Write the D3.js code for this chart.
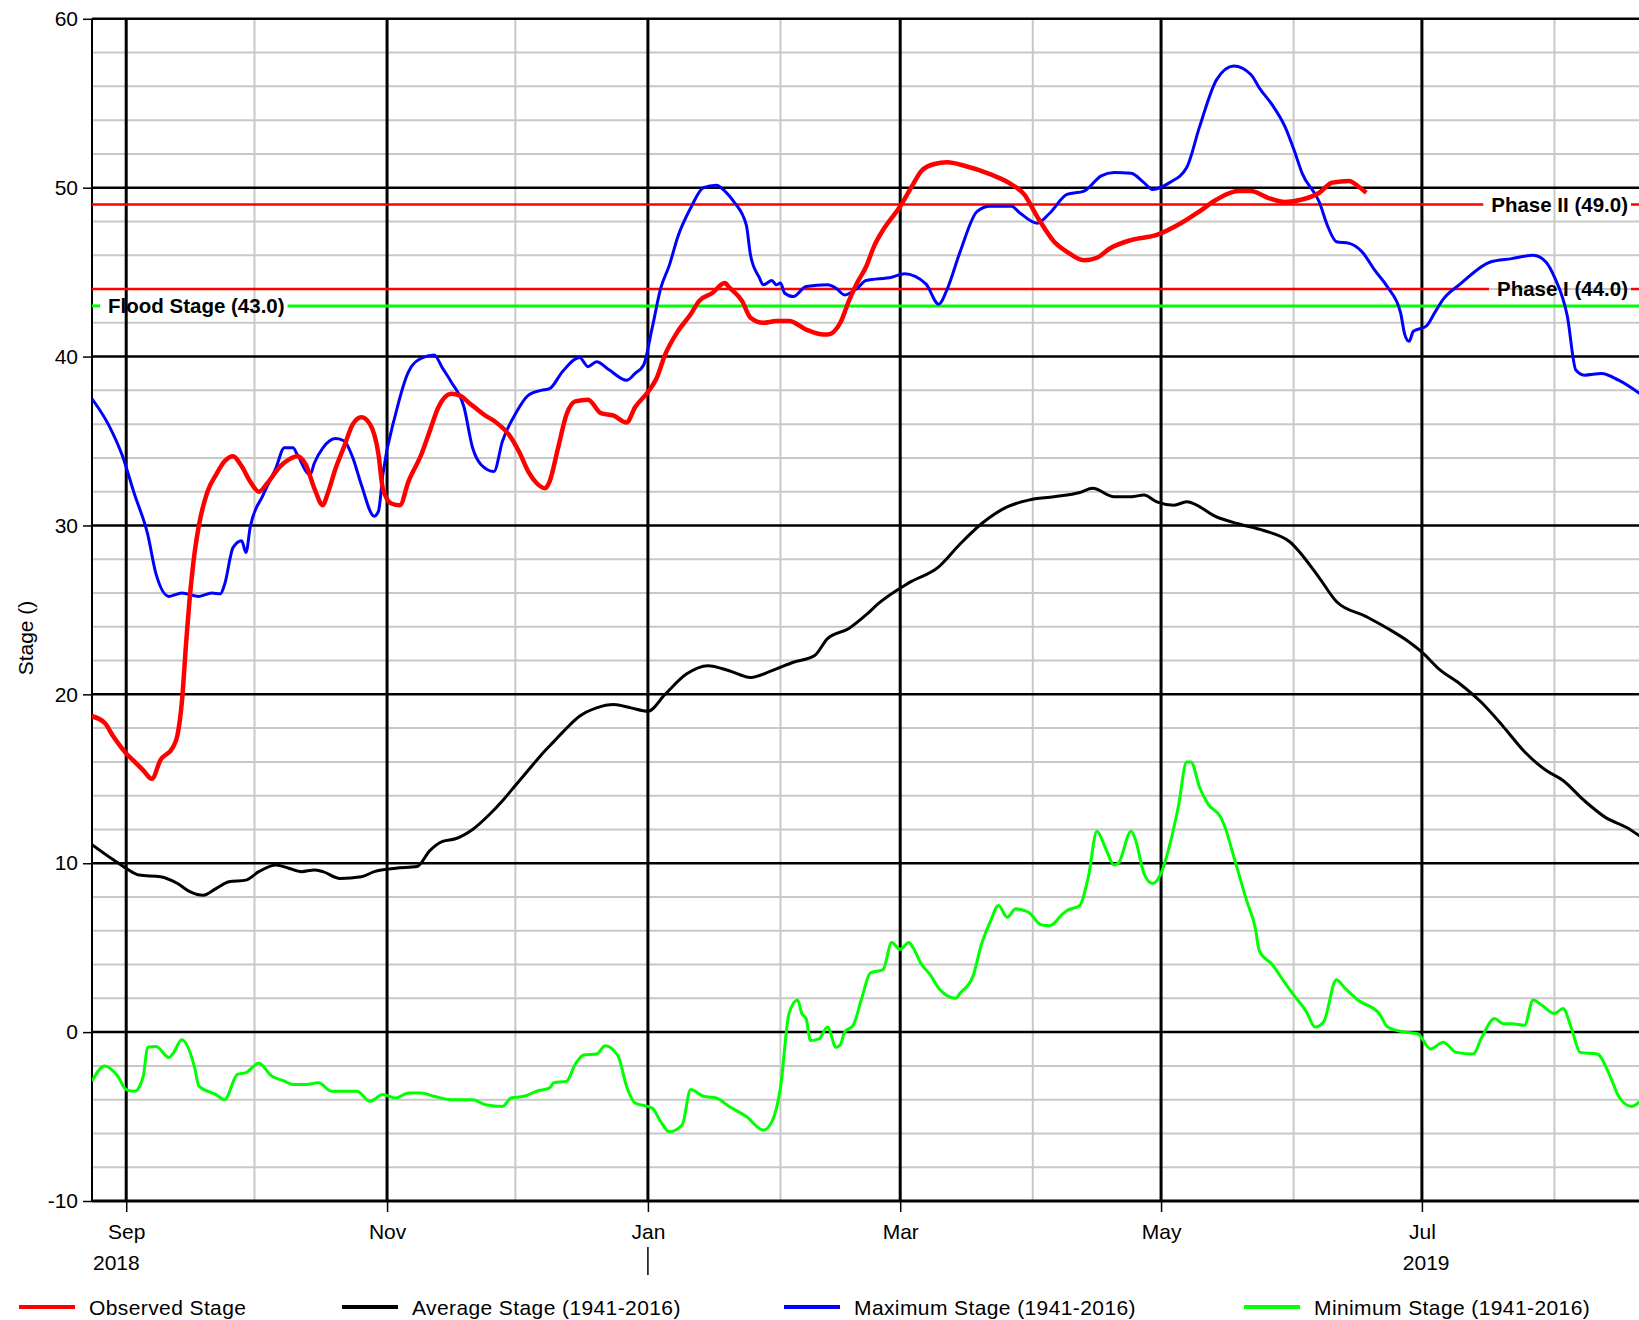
<!DOCTYPE html>
<html lang="en">
<head>
<meta charset="UTF-8">
<title>Stage chart</title>
<script src="https://cdnjs.cloudflare.com/ajax/libs/d3/7.8.5/d3.min.js"></script>
<style>
  body { margin: 0; background: #fff; }
  svg { display: block; font-family: "Liberation Sans", Arial, sans-serif; }
  .tick-label { font-size: 21px; fill: #000; }
  .marker-label { font-size: 20.5px; font-weight: bold; fill: #000; }
</style>
</head>
<body>
<svg id="chart" width="1639" height="1320"></svg>
<script>
// ---- data ----
const observedStage = [
  ["2018-08-24",18.7],["2018-08-27",18.3],["2018-08-29",17.5],["2018-09-01",16.5],["2018-09-03",16.0],
  ["2018-09-05",15.5],["2018-09-07",15.0],["2018-09-09",16.1],["2018-09-12",16.9],["2018-09-13",17.6],
  ["2018-09-14",19.5],["2018-09-15",23.0],["2018-09-16",26.1],["2018-09-17",28.4],["2018-09-18",30.0],
  ["2018-09-20",32.0],["2018-09-22",33.0],["2018-09-24",33.8],["2018-09-26",34.1],["2018-09-28",33.5],
  ["2018-09-30",32.6],["2018-10-02",32.0],["2018-10-04",32.5],["2018-10-07",33.5],["2018-10-09",33.9],
  ["2018-10-11",34.1],["2018-10-13",33.6],["2018-10-15",32.2],["2018-10-17",31.2],["2018-10-18",31.8],
  ["2018-10-20",33.4],["2018-10-22",34.7],["2018-10-24",36.0],["2018-10-26",36.4],["2018-10-28",36.0],
  ["2018-10-30",34.2],["2018-10-31",32.2],["2018-11-02",31.3],["2018-11-04",31.2],["2018-11-06",32.6],
  ["2018-11-09",34.2],["2018-11-11",35.6],["2018-11-13",37.0],["2018-11-16",37.8],["2018-11-18",37.7],
  ["2018-11-20",37.3],["2018-11-24",36.5],["2018-11-26",36.2],["2018-11-30",35.2],["2018-12-02",34.3],
  ["2018-12-04",33.2],["2018-12-06",32.5],["2018-12-08",32.2],["2018-12-09",32.6],["2018-12-11",34.6],
  ["2018-12-13",36.6],["2018-12-15",37.35],["2018-12-18",37.45],["2018-12-21",36.65],["2018-12-24",36.5],
  ["2018-12-27",36.1],["2018-12-29",37.0],["2019-01-01",37.9],["2019-01-03",38.7],["2019-01-05",40.1],
  ["2019-01-08",41.5],["2019-01-11",42.5],["2019-01-13",43.3],["2019-01-16",43.75],["2019-01-19",44.35],
  ["2019-01-20",44.1],["2019-01-23",43.3],["2019-01-25",42.3],["2019-01-28",42.0],["2019-01-31",42.1],
  ["2019-02-03",42.1],["2019-02-07",41.6],["2019-02-11",41.3],["2019-02-12",41.3],["2019-02-15",42.0],
  ["2019-02-17",43.3],["2019-02-19",44.4],["2019-02-21",45.3],["2019-02-23",46.6],["2019-02-25",47.5],
  ["2019-03-01",48.9],["2019-03-04",50.2],["2019-03-06",51.0],["2019-03-09",51.4],["2019-03-12",51.5],
  ["2019-03-16",51.3],["2019-03-22",50.8],["2019-03-27",50.2],["2019-03-30",49.6],["2019-04-02",48.3],
  ["2019-04-06",46.8],["2019-04-09",46.2],["2019-04-13",45.7],["2019-04-16",45.85],["2019-04-19",46.4],
  ["2019-04-24",46.9],["2019-04-30",47.2],["2019-05-05",47.8],["2019-05-10",48.6],["2019-05-14",49.3],
  ["2019-05-19",49.8],["2019-05-22",49.8],["2019-05-26",49.4],["2019-05-30",49.15],["2019-06-03",49.3],
  ["2019-06-07",49.7],["2019-06-10",50.3],["2019-06-14",50.4],["2019-06-16",50.1],["2019-06-18",49.7]
];

const averageStage = [
  ["2018-08-24",11.1],["2018-08-29",10.2],["2018-09-01",9.7],["2018-09-04",9.3],["2018-09-09",9.2],
  ["2018-09-13",8.8],["2018-09-16",8.3],["2018-09-19",8.1],["2018-09-22",8.5],["2018-09-25",8.9],
  ["2018-09-29",9.0],["2018-10-02",9.5],["2018-10-06",9.9],["2018-10-09",9.7],["2018-10-12",9.5],
  ["2018-10-15",9.6],["2018-10-17",9.5],["2018-10-21",9.1],["2018-10-26",9.2],["2018-10-29",9.5],
  ["2018-11-03",9.7],["2018-11-08",9.8],["2018-11-11",10.75],["2018-11-14",11.3],["2018-11-17",11.45],
  ["2018-11-21",12.0],["2018-11-25",12.9],["2018-11-28",13.7],["2018-12-01",14.6],["2018-12-04",15.5],
  ["2018-12-07",16.4],["2018-12-10",17.2],["2018-12-13",18.0],["2018-12-16",18.7],["2018-12-20",19.2],
  ["2018-12-24",19.4],["2018-12-28",19.2],["2019-01-01",19.0],["2019-01-05",20.0],["2019-01-10",21.2],
  ["2019-01-15",21.7],["2019-01-20",21.4],["2019-01-25",21.0],["2019-01-30",21.4],["2019-02-04",21.9],
  ["2019-02-09",22.3],["2019-02-12",23.3],["2019-02-17",23.9],["2019-02-21",24.7],["2019-02-24",25.4],
  ["2019-03-03",26.6],["2019-03-10",27.55],["2019-03-15",28.9],["2019-03-20",30.1],["2019-03-26",31.1],
  ["2019-03-31",31.5],["2019-04-06",31.7],["2019-04-12",31.95],["2019-04-15",32.2],["2019-04-20",31.7],
  ["2019-04-24",31.7],["2019-04-27",31.8],["2019-04-30",31.4],["2019-05-04",31.2],["2019-05-07",31.4],
  ["2019-05-14",30.5],["2019-05-19",30.1],["2019-05-25",29.7],["2019-05-31",29.05],["2019-06-07",26.9],
  ["2019-06-11",25.5],["2019-06-18",24.6],["2019-06-23",23.9],["2019-06-28",23.1],["2019-07-01",22.5],
  ["2019-07-05",21.5],["2019-07-10",20.6],["2019-07-15",19.5],["2019-07-20",18.1],["2019-07-25",16.6],
  ["2019-07-30",15.5],["2019-08-03",14.9],["2019-08-08",13.7],["2019-08-13",12.7],["2019-08-18",12.1],
  ["2019-08-21",11.6]
];

const maximumStage = [
  ["2018-08-24",37.5],["2018-08-28",35.9],["2018-08-31",34.2],["2018-09-03",31.8],["2018-09-06",29.5],
  ["2018-09-08",27.1],["2018-09-11",25.8],["2018-09-14",26.0],["2018-09-18",25.8],["2018-09-21",26.0],
  ["2018-09-23",25.95],["2018-09-24",26.5],["2018-09-26",28.7],["2018-09-28",29.1],["2018-09-29",28.4],
  ["2018-09-30",29.9],["2018-10-03",31.8],["2018-10-06",33.4],["2018-10-08",34.6],["2018-10-10",34.6],
  ["2018-10-11",34.2],["2018-10-14",33.0],["2018-10-15",33.7],["2018-10-17",34.6],["2018-10-20",35.15],
  ["2018-10-22",35.0],["2018-10-24",34.0],["2018-10-26",32.4],["2018-10-29",30.55],["2018-10-30",30.85],
  ["2018-10-31",33.0],["2018-11-03",36.6],["2018-11-06",39.1],["2018-11-09",39.9],["2018-11-12",40.1],
  ["2018-11-14",39.3],["2018-11-16",38.5],["2018-11-19",37.0],["2018-11-21",34.6],["2018-11-23",33.6],
  ["2018-11-26",33.2],["2018-11-28",35.0],["2018-12-01",36.6],["2018-12-04",37.7],["2018-12-07",38.0],
  ["2018-12-09",38.1],["2018-12-12",39.1],["2018-12-16",39.95],["2018-12-18",39.4],["2018-12-20",39.7],
  ["2018-12-23",39.2],["2018-12-27",38.6],["2018-12-29",39.0],["2018-12-31",39.5],["2019-01-02",41.7],
  ["2019-01-04",44.05],["2019-01-06",45.4],["2019-01-08",47.1],["2019-01-11",48.8],["2019-01-14",50.0],
  ["2019-01-17",50.15],["2019-01-19",49.8],["2019-01-21",49.2],["2019-01-24",47.8],["2019-01-25",46.0],
  ["2019-01-27",44.7],["2019-01-28",44.25],["2019-01-30",44.5],["2019-01-31",44.25],["2019-02-01",44.35],
  ["2019-02-02",43.75],["2019-02-04",43.55],["2019-02-07",44.15],["2019-02-12",44.25],["2019-02-14",44.05],
  ["2019-02-16",43.65],["2019-02-19",44.05],["2019-02-21",44.5],["2019-02-27",44.7],["2019-03-02",44.9],
  ["2019-03-07",44.3],["2019-03-10",43.1],["2019-03-12",44.0],["2019-03-15",46.2],["2019-03-19",48.6],
  ["2019-03-22",48.9],["2019-03-27",48.9],["2019-03-29",48.5],["2019-04-02",47.9],["2019-04-05",48.5],
  ["2019-04-09",49.6],["2019-04-13",49.8],["2019-04-17",50.7],["2019-04-20",50.9],["2019-04-24",50.85],
  ["2019-04-27",50.3],["2019-04-29",49.9],["2019-05-03",50.3],["2019-05-07",51.2],["2019-05-10",53.6],
  ["2019-05-14",56.4],["2019-05-18",57.2],["2019-05-22",56.7],["2019-05-24",55.9],["2019-05-27",54.9],
  ["2019-05-30",53.6],["2019-06-01",52.3],["2019-06-03",50.85],["2019-06-07",49.15],["2019-06-09",47.7],
  ["2019-06-11",46.8],["2019-06-14",46.7],["2019-06-17",46.2],["2019-06-20",45.1],["2019-06-23",44.1],
  ["2019-06-26",42.6],["2019-06-27",41.3],["2019-06-28",40.9],["2019-06-29",41.5],["2019-07-02",41.8],
  ["2019-07-04",42.6],["2019-07-06",43.4],["2019-07-10",44.3],["2019-07-17",45.6],["2019-07-22",45.8],
  ["2019-07-27",46.0],["2019-07-30",45.6],["2019-08-01",44.7],["2019-08-04",42.4],["2019-08-06",39.2],
  ["2019-08-08",38.9],["2019-08-12",39.0],["2019-08-16",38.6],["2019-08-21",37.8]
];

const minimumStage = [
  ["2018-08-24",-2.9],["2018-08-27",-2.0],["2018-08-30",-2.6],["2018-09-01",-3.4],["2018-09-03",-3.5],
  ["2018-09-05",-2.6],["2018-09-06",-0.9],["2018-09-08",-0.85],["2018-09-11",-1.5],["2018-09-12",-1.25],
  ["2018-09-14",-0.45],["2018-09-17",-2.1],["2018-09-18",-3.2],["2018-09-22",-3.7],["2018-09-24",-4.0],
  ["2018-09-27",-2.5],["2018-09-29",-2.4],["2018-10-02",-1.85],["2018-10-05",-2.6],["2018-10-08",-2.9],
  ["2018-10-10",-3.1],["2018-10-13",-3.1],["2018-10-16",-3.0],["2018-10-19",-3.5],["2018-10-25",-3.5],
  ["2018-10-28",-4.1],["2018-10-31",-3.7],["2018-11-03",-3.9],["2018-11-06",-3.6],["2018-11-09",-3.6],
  ["2018-11-12",-3.8],["2018-11-16",-4.0],["2018-11-21",-4.0],["2018-11-24",-4.3],["2018-11-28",-4.4],
  ["2018-11-30",-3.9],["2018-12-03",-3.8],["2018-12-06",-3.5],["2018-12-09",-3.3],["2018-12-10",-3.0],
  ["2018-12-13",-2.9],["2018-12-15",-1.9],["2018-12-17",-1.35],["2018-12-20",-1.3],["2018-12-22",-0.8],
  ["2018-12-25",-1.4],["2018-12-27",-3.2],["2018-12-29",-4.2],["2019-01-02",-4.5],["2019-01-04",-5.3],
  ["2019-01-06",-5.9],["2019-01-09",-5.5],["2019-01-11",-3.4],["2019-01-14",-3.8],["2019-01-17",-3.9],
  ["2019-01-20",-4.4],["2019-01-24",-5.0],["2019-01-28",-5.8],["2019-01-30",-5.3],["2019-02-01",-3.3],
  ["2019-02-03",1.1],["2019-02-05",1.9],["2019-02-06",1.1],["2019-02-07",0.8],["2019-02-08",-0.5],
  ["2019-02-10",-0.4],["2019-02-12",0.3],["2019-02-14",-0.9],["2019-02-15",-0.75],["2019-02-16",0.0],
  ["2019-02-18",0.4],["2019-02-20",2.0],["2019-02-22",3.5],["2019-02-25",3.7],["2019-02-27",5.3],
  ["2019-03-01",4.9],["2019-03-03",5.3],["2019-03-04",5.0],["2019-03-06",4.0],["2019-03-08",3.4],
  ["2019-03-10",2.6],["2019-03-14",2.0],["2019-03-15",2.3],["2019-03-18",3.3],["2019-03-20",5.2],
  ["2019-03-22",6.5],["2019-03-24",7.5],["2019-03-26",6.8],["2019-03-28",7.3],["2019-03-30",7.2],
  ["2019-03-31",7.1],["2019-04-03",6.35],["2019-04-05",6.3],["2019-04-08",7.0],["2019-04-09",7.2],
  ["2019-04-12",7.5],["2019-04-14",9.2],["2019-04-16",11.9],["2019-04-18",10.9],["2019-04-20",9.9],
  ["2019-04-21",10.0],["2019-04-24",11.9],["2019-04-25",11.4],["2019-04-27",9.4],["2019-04-29",8.8],
  ["2019-05-01",9.4],["2019-05-03",11.05],["2019-05-05",13.3],["2019-05-07",16.0],["2019-05-08",16.0],
  ["2019-05-10",14.5],["2019-05-12",13.5],["2019-05-15",12.7],["2019-05-16",12.1],["2019-05-18",10.4],
  ["2019-05-21",7.8],["2019-05-23",6.2],["2019-05-24",4.8],["2019-05-27",4.0],["2019-05-30",2.9],
  ["2019-06-01",2.2],["2019-06-04",1.2],["2019-06-06",0.3],["2019-06-08",0.6],["2019-06-11",3.1],
  ["2019-06-13",2.6],["2019-06-16",1.9],["2019-06-21",1.1],["2019-06-23",0.3],["2019-06-27",0.0],
  ["2019-06-30",-0.1],["2019-07-03",-1.0],["2019-07-06",-0.6],["2019-07-09",-1.2],["2019-07-13",-1.3],
  ["2019-07-15",-0.3],["2019-07-18",0.8],["2019-07-20",0.5],["2019-07-22",0.5],["2019-07-25",0.4],
  ["2019-07-27",1.9],["2019-07-29",1.6],["2019-08-01",1.1],["2019-08-03",1.4],["2019-08-05",0.2],
  ["2019-08-07",-1.2],["2019-08-11",-1.3],["2019-08-14",-2.6],["2019-08-16",-3.8],["2019-08-19",-4.4],
  ["2019-08-21",-4.1]
];

const thresholdNames  = ["Phase II (49.0)", "Phase I (44.0)", "Flood Stage (43.0)"];
const thresholdValues = [49.0, 44.0, 43.0];
const thresholdColors = ["#ff0000", "#ff0000", "#00ff00"];
const thresholdAlign  = ["right", "right", "left"];

const seriesNames  = ["Observed Stage", "Average Stage (1941-2016)", "Maximum Stage (1941-2016)", "Minimum Stage (1941-2016)"];
const seriesColors = ["#ff0000", "#000000", "#0000ff", "#00ff00"];

const yTicks = [-10, 0, 10, 20, 30, 40, 50, 60];
const yLabel = "Stage ()";
const xDomain = ["2018-08-24", "2019-08-21"];

// ---- layout ----
const svg = d3.select("#chart");
const plotLeft = 92, plotRight = 1640, plotTop = 18.8, plotBottom = 1201;

const parse = d3.utcParse("%Y-%m-%d");
const x = d3.scaleUtc().domain(xDomain.map(parse)).range([plotLeft, plotRight]);
const y = d3.scaleLinear().domain([-10, 60]).range([plotBottom, plotTop]);

svg.append("defs").append("clipPath").attr("id", "plot-clip")
  .append("rect").attr("x", plotLeft).attr("y", plotTop - 5)
  .attr("width", plotRight - plotLeft).attr("height", plotBottom - plotTop + 10);

const grid = svg.append("g");

// minor horizontal grid every 2
d3.range(-8, 60, 2).filter(v => v % 10 !== 0).forEach(v => {
  grid.append("line").attr("x1", plotLeft).attr("x2", plotRight).attr("y1", y(v)).attr("y2", y(v))
    .attr("stroke", "#c8c8c8").attr("stroke-width", 2);
});

// month grid lines
const months = d3.utcMonth.range(x.domain()[0], x.domain()[1]);
months.forEach(m => {
  const major = m.getUTCMonth() % 2 === 0;   // Jan, Mar, May, Jul, Sep, Nov
  grid.append("line").attr("x1", x(m)).attr("x2", x(m)).attr("y1", plotTop).attr("y2", plotBottom)
    .attr("stroke", major ? "#000" : "#c8c8c8").attr("stroke-width", major ? 3 : 2);
});

// major horizontal grid
yTicks.forEach(v => {
  grid.append("line").attr("x1", plotLeft).attr("x2", plotRight).attr("y1", y(v)).attr("y2", y(v))
    .attr("stroke", "#000").attr("stroke-width", v === -10 ? 3 : 2.5);
});

// left axis line
grid.append("line").attr("x1", plotLeft).attr("x2", plotLeft).attr("y1", plotTop).attr("y2", plotBottom)
  .attr("stroke", "#000").attr("stroke-width", 2);

// y axis ticks + labels (plain hyphen for negatives)
const yAxis = svg.append("g").attr("transform", `translate(${plotLeft},0)`)
  .call(d3.axisLeft(y).tickValues(yTicks).tickSize(9).tickPadding(5).tickFormat(d => String(d)));
yAxis.select(".domain").remove();
yAxis.selectAll(".tick line").attr("stroke", "#000").attr("stroke-width", 1.5);
yAxis.selectAll(".tick text").attr("class", "tick-label");
yAxis.attr("font-family", null).attr("font-size", null);

// x axis: major month ticks
const majorMonths = months.filter(m => m.getUTCMonth() % 2 === 0);
const xAxis = svg.append("g").attr("transform", `translate(0,${plotBottom})`)
  .call(d3.axisBottom(x).tickValues(majorMonths).tickSize(11).tickPadding(8).tickFormat(d3.utcFormat("%b")));
xAxis.select(".domain").remove();
xAxis.selectAll(".tick line").attr("stroke", "#000").attr("stroke-width", 1.5);
xAxis.selectAll(".tick text").attr("class", "tick-label").attr("dy", "0.9em");
xAxis.attr("font-family", null).attr("font-size", null);

// year labels (centered at mid-year, clamped to the plot)
const years = [2018, 2019];
years.forEach(yr => {
  const mid = x(Date.UTC(yr, 6, 2));
  const t = svg.append("text").attr("class", "tick-label").attr("y", 1270).text(yr);
  if (mid < plotLeft + 25) t.attr("x", plotLeft + 1).attr("text-anchor", "start");
  else t.attr("x", mid).attr("text-anchor", "middle");
});
// year boundary tick
d3.utcYear.range(x.domain()[0], x.domain()[1]).forEach(d => {
  svg.append("line").attr("x1", x(d)).attr("x2", x(d)).attr("y1", 1247).attr("y2", 1275)
    .attr("stroke", "#000").attr("stroke-width", 1.5);
});

// y axis title
svg.append("text").attr("class", "tick-label")
  .attr("transform", "translate(26,638) rotate(-90)")
  .attr("text-anchor", "middle").attr("dy", "0.35em").text(yLabel);

// ---- threshold markers ----
const markers = svg.append("g").attr("clip-path", "url(#plot-clip)");
thresholdValues.forEach((v, i) => {
  const yy = y(v);
  const label = markers.append("text").attr("class", "marker-label")
    .attr("y", yy).attr("dy", "0.36em").text(thresholdNames[i]);
  if (thresholdAlign[i] === "right") label.attr("x", 1628).attr("text-anchor", "end");
  else label.attr("x", 108).attr("text-anchor", "start");
  const bb = label.node().getBBox();
  const segs = [[plotLeft, bb.x - 8], [bb.x + bb.width + 3, plotRight]];
  segs.forEach(s => {
    markers.insert("line", "text").attr("x1", s[0]).attr("x2", s[1]).attr("y1", yy).attr("y2", yy)
      .attr("stroke", thresholdColors[i]).attr("stroke-width", i === 2 ? 3 : 2.5);
  });
});

// ---- series ----
const line = d3.line()
  .x(d => x(parse(d[0])))
  .y(d => y(d[1]))
  .curve(d3.curveMonotoneX);

const plot = svg.append("g").attr("clip-path", "url(#plot-clip)");
const seriesData = [observedStage, averageStage, maximumStage, minimumStage];
const drawOrder = [1, 3, 2, 0];
drawOrder.forEach(i => {
  plot.append("path").datum(seriesData[i])
    .attr("fill", "none")
    .attr("stroke", seriesColors[i])
    .attr("stroke-width", i === 0 ? 4.5 : 3)
    .attr("stroke-linejoin", "round")
    .attr("d", line);
});

// ---- legend ----
const legendX = [19, 342, 784, 1244];
const legend = svg.append("g").attr("transform", "translate(0,1307)");
seriesNames.forEach((name, i) => {
  const g = legend.append("g").attr("transform", `translate(${legendX[i]},0)`);
  g.append("line").attr("x1", 0).attr("x2", 56).attr("y1", 0).attr("y2", 0)
    .attr("stroke", seriesColors[i]).attr("stroke-width", 4);
  g.append("text").attr("class", "tick-label").attr("x", 70).attr("dy", "0.36em")
    .attr("letter-spacing", "0.4").text(name);
});
</script>
</body>
</html>
